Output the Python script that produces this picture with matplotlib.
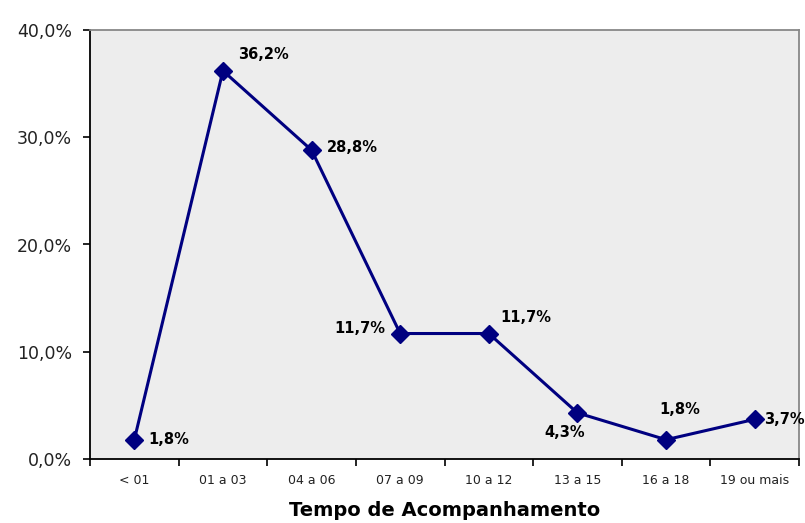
import matplotlib
matplotlib.use("Agg")
import matplotlib.pyplot as plt

categories = ["< 01", "01 a 03", "04 a 06", "07 a 09", "10 a 12", "13 a 15", "16 a 18", "19 ou mais"]
values = [1.8, 36.2, 28.8, 11.7, 11.7, 4.3, 1.8, 3.7]
y_ticks = [0, 10, 20, 30, 40]

# label offsets in points (dx, dy, ha)
label_pos = [(10, 0, "left"), (11, 12, "left"), (11, 2, "left"), (-11, 3.5, "right"),
             (8, 11.5, "left"), (-9.5, -14, "center"), (-5, 21.5, "left"), (7, 0, "left")]

plt.rcParams["font.family"] = ["DejaVu Sans"]

fig = plt.figure(figsize=(8.05, 5.23), dpi=100)
ax = fig.add_axes([90 / 805, 64 / 523, 709 / 805, 429 / 523])
ax.set_facecolor("#ededed")

x = range(len(categories))
ax.plot(x, values, color="#000080", lw=2.2, marker="D", ms=9.5, zorder=3)

for i, v in enumerate(values):
    dx, dy, ha = label_pos[i]
    ax.annotate(f"{v:.1f}%".replace(".", ","), (i, v), xytext=(dx, dy),
                textcoords="offset points", ha=ha, va="center",
                fontsize=10.5, fontweight="bold", color="black",
                annotation_clip=False)

ax.set_xlim(-0.5, len(categories) - 0.5)
ax.set_ylim(0, 40)
ax.set_yticks(y_ticks)
ax.set_yticklabels([f"{t:.1f}%".replace(".", ",") for t in y_ticks], fontsize=12.5, color="#222222")
ax.set_xticks(list(x))
ax.set_xticklabels(categories, fontsize=9, color="#222222")
ax.set_xticks([i - 0.5 for i in range(len(categories) + 1)], minor=True)
ax.tick_params(axis="x", which="major", length=0, pad=11)
ax.tick_params(axis="x", which="minor", length=5, width=1.2, direction="out")
ax.tick_params(axis="y", length=5, width=1.2, direction="out", pad=8)

for s in ["left", "bottom"]:
    ax.spines[s].set_color("black")
    ax.spines[s].set_linewidth(1.3)
for s in ["top", "right"]:
    ax.spines[s].set_color("#888888")
    ax.spines[s].set_linewidth(1.3)

ax.set_xlabel("Tempo de Acompanhamento", fontsize=14, fontweight="bold", labelpad=10)

fig.savefig("out.png", dpi=100, facecolor="white")
